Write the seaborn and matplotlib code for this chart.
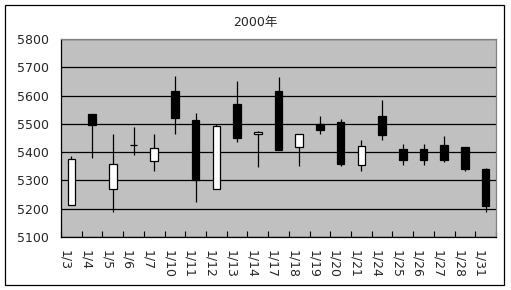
import numpy as np
import matplotlib
matplotlib.use("Agg")
import matplotlib.pyplot as plt
import seaborn as sns
from matplotlib.patches import Rectangle
from matplotlib.ticker import FixedLocator

dates = ["1/3", "1/4", "1/5", "1/6", "1/7", "1/10", "1/11", "1/12", "1/13", "1/14",
         "1/17", "1/18", "1/19", "1/20", "1/21", "1/24", "1/25", "1/26", "1/27", "1/28", "1/31"]
opens  = [5213, 5535, 5270, 5425, 5369, 5617, 5515, 5270, 5571, 5464,
          5617, 5418, 5498, 5508, 5354, 5529, 5412, 5412, 5426, 5419, 5342]
highs  = [5387, 5535, 5465, 5490, 5465, 5670, 5540, 5500, 5653, 5476,
          5667, 5464, 5529, 5518, 5444, 5585, 5430, 5430, 5458, 5419, 5345]
lows   = [5213, 5378, 5187, 5391, 5332, 5463, 5222, 5270, 5435, 5346,
          5406, 5350, 5463, 5350, 5332, 5442, 5354, 5354, 5364, 5332, 5187]
closes = [5376, 5495, 5358, 5425, 5415, 5519, 5303, 5492, 5449, 5471,
          5406, 5464, 5480, 5357, 5422, 5459, 5371, 5371, 5371, 5339, 5208]
title = "2000年"
yticks = [5100, 5200, 5300, 5400, 5500, 5600, 5700, 5800]

sns.set_theme(style="white")
plt.rcParams['font.family'] = ['DejaVu Sans', 'Noto Sans CJK JP']

W, H = 511, 290
fig = plt.figure(figsize=(W / 100, H / 100), dpi=100)
fig.subplots_adjust(left=61 / W, right=496 / W, top=1 - 39 / H, bottom=1 - 237 / H)
ax = fig.add_subplot(111)
ax.set_facecolor("#C0C0C0")

o = np.array(opens); c = np.array(closes)
up = c >= o
bodies_bottom = np.minimum(o, c)
bodies_height = np.abs(c - o)
d = np.array(dates)

n = len(dates)
ax.vlines(np.arange(n), lows, highs, color="black", lw=0.9, zorder=2)

sns.barplot(x=list(d[up]), y=list(bodies_height[up]), order=dates, bottom=list(bodies_bottom[up]),
            color="white", edgecolor="black", linewidth=0.9, width=0.36, saturation=1,
            errorbar=None, ax=ax, zorder=3)
sns.barplot(x=list(d[~up]), y=list(bodies_height[~up]), order=dates, bottom=list(bodies_bottom[~up]),
            color="black", edgecolor="black", linewidth=0.9, width=0.36, saturation=1,
            errorbar=None, ax=ax, zorder=3)

ax.set_xlim(-0.5, n - 0.5)
ax.set_ylim(5100, 5800)
ax.set_yticks(yticks)
ax.set_yticklabels([str(v) for v in yticks])
ax.yaxis.grid(True, color="black", lw=0.9)
ax.set_axisbelow(True)
ax.set_xlabel("")
ax.set_ylabel("")

ax.set_xticks(np.arange(n))
ax.set_xticklabels(dates, rotation=270, ha="right", va="top")
ax.xaxis.set_minor_locator(FixedLocator(np.arange(n + 1) - 0.5))
ax.tick_params(axis="x", which="major", length=0, pad=9, labelsize=9)
ax.tick_params(axis="x", which="minor", length=4.5, direction="in", color="black", width=0.8, bottom=True)
ax.tick_params(axis="y", length=0, pad=9, labelsize=9)

for s in ["left", "bottom"]:
    ax.spines[s].set_color("black"); ax.spines[s].set_linewidth(0.9)
for s in ["top", "right"]:
    ax.spines[s].set_color("#808080"); ax.spines[s].set_linewidth(0.9)

fig.text(0.5, 1 - 26 / H, title, fontsize=9, ha="center", va="baseline")

fig.patches.append(Rectangle((5 / W, 5 / H), 499 / W, 280 / H, transform=fig.transFigure,
                             fill=False, edgecolor="black", lw=0.9))

fig.savefig("out.png", dpi=100)
